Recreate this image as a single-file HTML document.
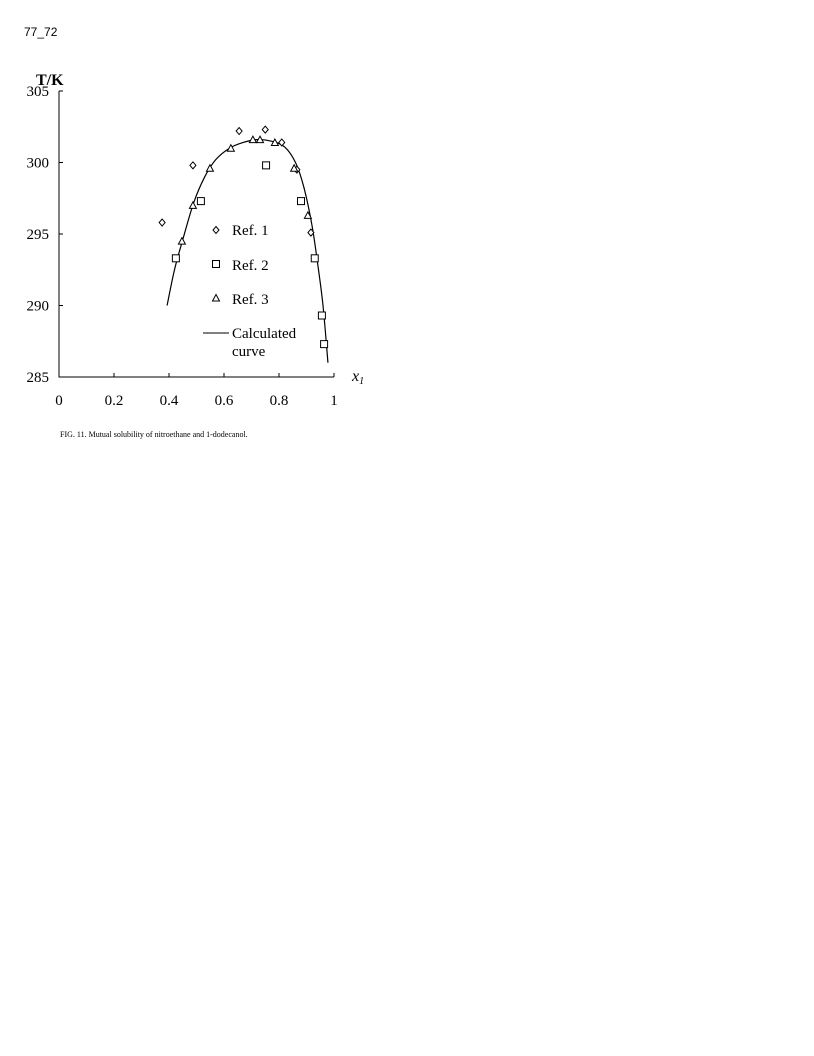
<!DOCTYPE html>
<html><head><meta charset="utf-8"><style>
body{margin:0;background:#fff;}
svg{display:block;font-family:"Liberation Serif",serif;}
</style></head><body>
<svg width="814" height="1056" viewBox="0 0 814 1056">
<text x="24" y="36" font-family="Liberation Sans,sans-serif" font-size="12">77_72</text>
<g id="plot"></g>
<text x="36" y="85" font-size="16" font-weight="bold">T/K</text>
<text x="352" y="381" font-size="16" font-style="italic">x<tspan font-size="10" dy="3">1</tspan></text>
<text x="60" y="437" font-size="8">FIG. 11. Mutual solubility of nitroethane and 1-dodecanol.</text>
<g font-size="15">
<text x="232" y="235">Ref. 1</text>
<text x="232" y="270">Ref. 2</text>
<text x="232" y="304">Ref. 3</text>
<line x1="203" y1="333" x2="229" y2="333" stroke="#000"/>
<text x="232" y="338">Calculated</text>
<text x="232" y="356">curve</text>
</g>
</svg>
<script>
const xTicks=[0,0.2,0.4,0.6,0.8,1];
const xTickLabels=["0","0.2","0.4","0.6","0.8","1"];
const yTicks=[285,290,295,300,305];
const yTickLabels=["285","290","295","300","305"];
const ref1X=[0.375,0.487,0.655,0.75,0.81,0.865,0.916];
const ref1Y=[295.8,299.8,302.2,302.3,301.4,299.5,295.1];
const ref2X=[0.425,0.516,0.753,0.88,0.93,0.956,0.964];
const ref2Y=[293.3,297.3,299.8,297.3,293.3,289.3,287.3];
const ref3X=[0.447,0.487,0.549,0.625,0.705,0.731,0.785,0.855,0.905];
const ref3Y=[294.5,297,299.6,301,301.6,301.6,301.4,299.6,296.3];
const curveX=[0.393,0.42,0.45,0.49,0.53,0.57,0.62,0.67,0.72,0.77,0.82,0.86,0.89,0.92,0.94,0.96,0.978];
const curveY=[290,292.5,294.6,297.2,299,300.2,301,301.4,301.6,301.5,301.1,300,298.3,295.6,293,290,286];
const NS="http://www.w3.org/2000/svg";
const sx=v=>59+v*275;
const sy=v=>377-(v-285)*14.3;
const g=document.getElementById('plot');
function mk(t,a){const e=document.createElementNS(NS,t);for(const k in a)e.setAttribute(k,a[k]);g.appendChild(e);return e;}
let ax=mk('path',{d:`M${sx(0)},${sy(305)} L${sx(0)},${sy(285)} L${sx(1)},${sy(285)}`,fill:'none',stroke:'#000','stroke-width':1});


xTicks.forEach((v,i)=>{
 const t=mk('line',{x1:sx(v),x2:sx(v),y1:sy(285),y2:sy(285)-4,stroke:'#000'});
 
 
 const l=mk('text',{x:sx(v),y:405,'text-anchor':'middle','font-size':15});
 l.textContent=xTickLabels[i];
 
 
});
yTicks.forEach((v,i)=>{
 const t=mk('line',{x1:sx(0),x2:sx(0)+4,y1:sy(v),y2:sy(v),stroke:'#000'});
 
 
 const l=mk('text',{x:sx(0)-10,y:sy(v)+5,'text-anchor':'end','font-size':15});
 l.textContent=yTickLabels[i];
 
 
});
const P=curveX.map((x,i)=>[sx(x),sy(curveY[i])]);
let d='M'+P[0][0]+','+P[0][1];
for(let i=0;i<P.length-1;i++){
 const p0=P[Math.max(0,i-1)],p1=P[i],p2=P[i+1],p3=P[Math.min(P.length-1,i+2)];
 const c1=[p1[0]+(p2[0]-p0[0])/6,p1[1]+(p2[1]-p0[1])/6];
 const c2=[p2[0]-(p3[0]-p1[0])/6,p2[1]-(p3[1]-p1[1])/6];
 d+=` C${c1[0]},${c1[1]} ${c2[0]},${c2[1]} ${p2[0]},${p2[1]}`;
}
const c=mk('path',{d:d,fill:'none',stroke:'#000','stroke-width':1.2});


function diamond(x,y){const e=mk('path',{d:`M${x},${y-3.5} L${x+3},${y} L${x},${y+3.5} L${x-3},${y} Z`,fill:'#fff',stroke:'#000'});return e;}
function square(x,y){return mk('rect',{x:x-3.5,y:y-3.5,width:7,height:7,fill:'#fff',stroke:'#000'});}
function tri(x,y){return mk('path',{d:`M${x},${y-3.5} L${x+3.5},${y+3} L${x-3.5},${y+3} Z`,fill:'#fff',stroke:'#000'});}
ref1X.forEach((v,i)=>{const e=diamond(sx(v),sy(ref1Y[i]));
 
 });
ref2X.forEach((v,i)=>{const e=square(sx(v),sy(ref2Y[i]));
 
 });
ref3X.forEach((v,i)=>{const e=tri(sx(v),sy(ref3Y[i]));
 
 });
let e1=diamond(216,230);


let e2=square(216,264);


let e3=tri(216,298);


</script>
</body></html>
